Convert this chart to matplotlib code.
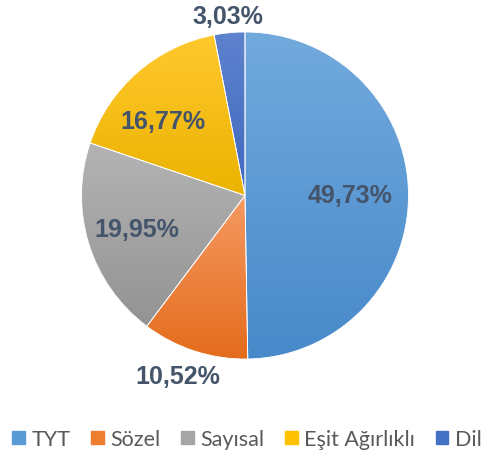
import numpy as np
import matplotlib.pyplot as plt
from matplotlib.colors import LinearSegmentedColormap

labels = ["TYT", "Sözel", "Sayısal", "Eşit Ağırlıklı", "Dil"]
values = [49.73, 10.52, 19.95, 16.77, 3.03]
pct_text = ["49,73%", "10,52%", "19,95%", "16,77%", "3,03%"]
# light (top) -> dark (bottom) gradient colours, Excel style
tops = ["#72AADD", "#F59A63", "#B4B4B4", "#FFC82E", "#5E82CE"]
bottoms = ["#4889CA", "#E46C1C", "#939393", "#EBB300", "#3F68BD"]
legend_colors = ["#5B9BD5", "#ED7D31", "#A5A5A5", "#FFC000", "#4472C4"]
label_dist = [0.64, 1.18, 0.69, 0.68, 1.10]
label_turn = [0, -2.3, 0, 6.5, 0]  # small angular nudges (deg)

plt.rcParams["font.family"] = ["Liberation Sans", "DejaVu Sans"]

fig = plt.figure(figsize=(4.84, 4.52), dpi=100)
cx, cy, r = 245, 196.5, 163.5
ax = fig.add_axes([(cx - r) / 484, (452 - cy - r) / 452, 2 * r / 484, 2 * r / 452])

wedges, _ = ax.pie(values, startangle=90, counterclock=False, radius=1,
                   wedgeprops=dict(edgecolor="white", linewidth=0.6))

for w, t, b in zip(wedges, tops, bottoms):
    w.set_facecolor("none")
    cmap = LinearSegmentedColormap.from_list("g", [t, b])
    bb = w.get_path().get_extents()
    grad = np.linspace(0, 1, 256).reshape(-1, 1)
    im = ax.imshow(grad, cmap=cmap, aspect="auto",
                   extent=[bb.x0, bb.x1, bb.y0, bb.y1], origin="upper", zorder=0.5)
    im.set_clip_path(w)
    w.set_zorder(1)

ax.set_xlim(-1, 1)
ax.set_ylim(-1, 1)
ax.set_aspect("equal")

for w, txt, d, dt in zip(wedges, pct_text, label_dist, label_turn):
    ang = np.deg2rad((w.theta1 + w.theta2) / 2 + dt)
    ax.text(d * np.cos(ang), d * np.sin(ang), txt, ha="center", va="center",
            fontsize=18, fontweight="bold", color="#44546A", zorder=3)
ax.axis("off")

handles = [plt.Rectangle((0, 0), 1, 1, color=c) for c in legend_colors]
fig.legend(handles, labels, loc="center", bbox_to_anchor=(0.5 + 5 / 484, 1 - 440 / 452),
           ncol=5, frameon=False, handlelength=0.6, handleheight=0.6,
           handletextpad=0.3, columnspacing=0.95,
           prop={"family": ["Lato", "DejaVu Sans"], "size": 15.5},
           labelcolor="#595959")

fig.savefig("out.png", dpi=100)
